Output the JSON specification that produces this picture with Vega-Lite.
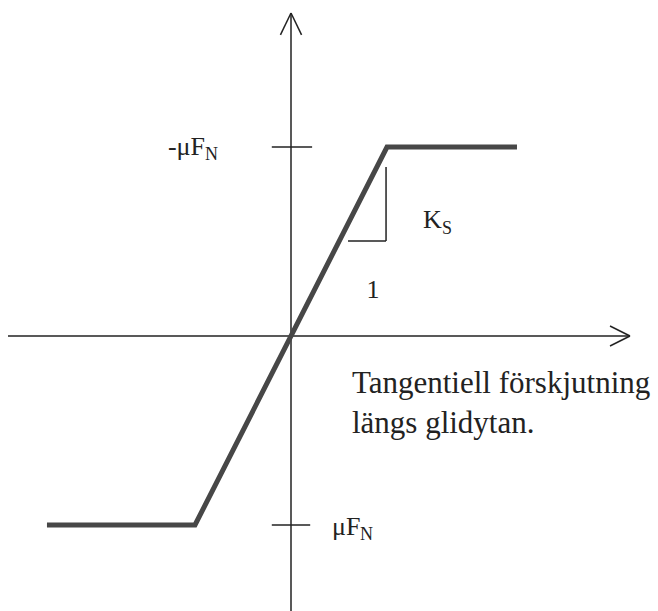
{
  "$schema": "https://vega.github.io/schema/vega-lite/v6.json",
  "width": 658,
  "height": 611,
  "padding": 0,
  "autosize": {"type": "none"},
  "background": "white",
  "config": {"view": {"stroke": null}},
  "encoding": {
    "x": {"type": "quantitative", "scale": {"domain": [-3.03125, 3.822917], "nice": false, "zero": false}, "axis": null},
    "y": {"type": "quantitative", "scale": {"domain": [-1.45503, 1.77778], "nice": false, "zero": false}, "axis": null}
  },
  "layer": [
    {
      "data": {"values": [
        {"part": "x-axis", "x": -2.948, "y": 0, "x2": 3.531, "y2": 0},
        {"part": "x-arrow upper", "x": 3.323, "y": 0.053, "x2": 3.531, "y2": 0},
        {"part": "x-arrow lower", "x": 3.323, "y": -0.053, "x2": 3.531, "y2": 0},
        {"part": "y-axis", "x": 0, "y": -1.46, "x2": 0, "y2": 1.709},
        {"part": "y-arrow left", "x": -0.11, "y": 1.593, "x2": 0, "y2": 1.709},
        {"part": "y-arrow right", "x": 0.11, "y": 1.593, "x2": 0, "y2": 1.709},
        {"part": "tick top", "x": -0.2, "y": 1, "x2": 0.22, "y2": 1},
        {"part": "tick bottom", "x": -0.2, "y": -1, "x2": 0.2, "y2": -1},
        {"part": "slope vertical", "x": 0.99, "y": 0.894, "x2": 0.99, "y2": 0.503},
        {"part": "slope horizontal", "x": 0.594, "y": 0.503, "x2": 0.99, "y2": 0.503}
      ]},
      "mark": {"type": "rule", "color": "#222222", "strokeWidth": 1.5},
      "encoding": {
        "x": {"field": "x", "type": "quantitative"},
        "y": {"field": "y", "type": "quantitative"},
        "x2": {"field": "x2"},
        "y2": {"field": "y2"}
      }
    },
    {
      "data": {"values": [
        {"order": 1, "x": -2.542, "y": -1},
        {"order": 2, "x": -1, "y": -1},
        {"order": 3, "x": 1, "y": 1},
        {"order": 4, "x": 2.354, "y": 1}
      ]},
      "mark": {"type": "line", "color": "#474747", "strokeWidth": 5, "strokeJoin": "miter"},
      "encoding": {
        "x": {"field": "x", "type": "quantitative"},
        "y": {"field": "y", "type": "quantitative"},
        "order": {"field": "order"}
      }
    },
    {
      "data": {"values": [{"label": "-μF", "x": -0.896, "y": 0.958}]},
      "mark": {"type": "text", "align": "right", "baseline": "alphabetic", "fontSize": 26, "font": "Liberation Serif", "color": "#222222"},
      "encoding": {
        "x": {"field": "x", "type": "quantitative"},
        "y": {"field": "y", "type": "quantitative"},
        "text": {"field": "label"}
      }
    },
    {
      "data": {"values": [
        {"label": "μF", "x": 0.427, "y": -1.053},
        {"label": "K", "x": 1.375, "y": 0.571}
      ]},
      "mark": {"type": "text", "align": "left", "baseline": "alphabetic", "fontSize": 26, "font": "Liberation Serif", "color": "#222222"},
      "encoding": {
        "x": {"field": "x", "type": "quantitative"},
        "y": {"field": "y", "type": "quantitative"},
        "text": {"field": "label"}
      }
    },
    {
      "data": {"values": [{"label": "1", "x": 0.854, "y": 0.201}]},
      "mark": {"type": "text", "align": "center", "baseline": "alphabetic", "fontSize": 26, "font": "Liberation Serif", "color": "#222222"},
      "encoding": {
        "x": {"field": "x", "type": "quantitative"},
        "y": {"field": "y", "type": "quantitative"},
        "text": {"field": "label"}
      }
    },
    {
      "data": {"values": [
        {"label": "N", "x": -0.896, "y": 0.931},
        {"label": "N", "x": 0.72, "y": -1.079},
        {"label": "S", "x": 1.573, "y": 0.54}
      ]},
      "mark": {"type": "text", "align": "left", "baseline": "alphabetic", "fontSize": 18, "font": "Liberation Serif", "color": "#222222"},
      "encoding": {
        "x": {"field": "x", "type": "quantitative"},
        "y": {"field": "y", "type": "quantitative"},
        "text": {"field": "label"}
      }
    },
    {
      "data": {"values": [
        {"label": "Tangentiell förskjutning", "x": 0.635, "y": -0.302},
        {"label": "längs glidytan.", "x": 0.635, "y": -0.513}
      ]},
      "mark": {"type": "text", "align": "left", "baseline": "alphabetic", "fontSize": 31, "font": "Liberation Serif", "color": "#222222"},
      "encoding": {
        "x": {"field": "x", "type": "quantitative"},
        "y": {"field": "y", "type": "quantitative"},
        "text": {"field": "label"}
      }
    }
  ]
}
